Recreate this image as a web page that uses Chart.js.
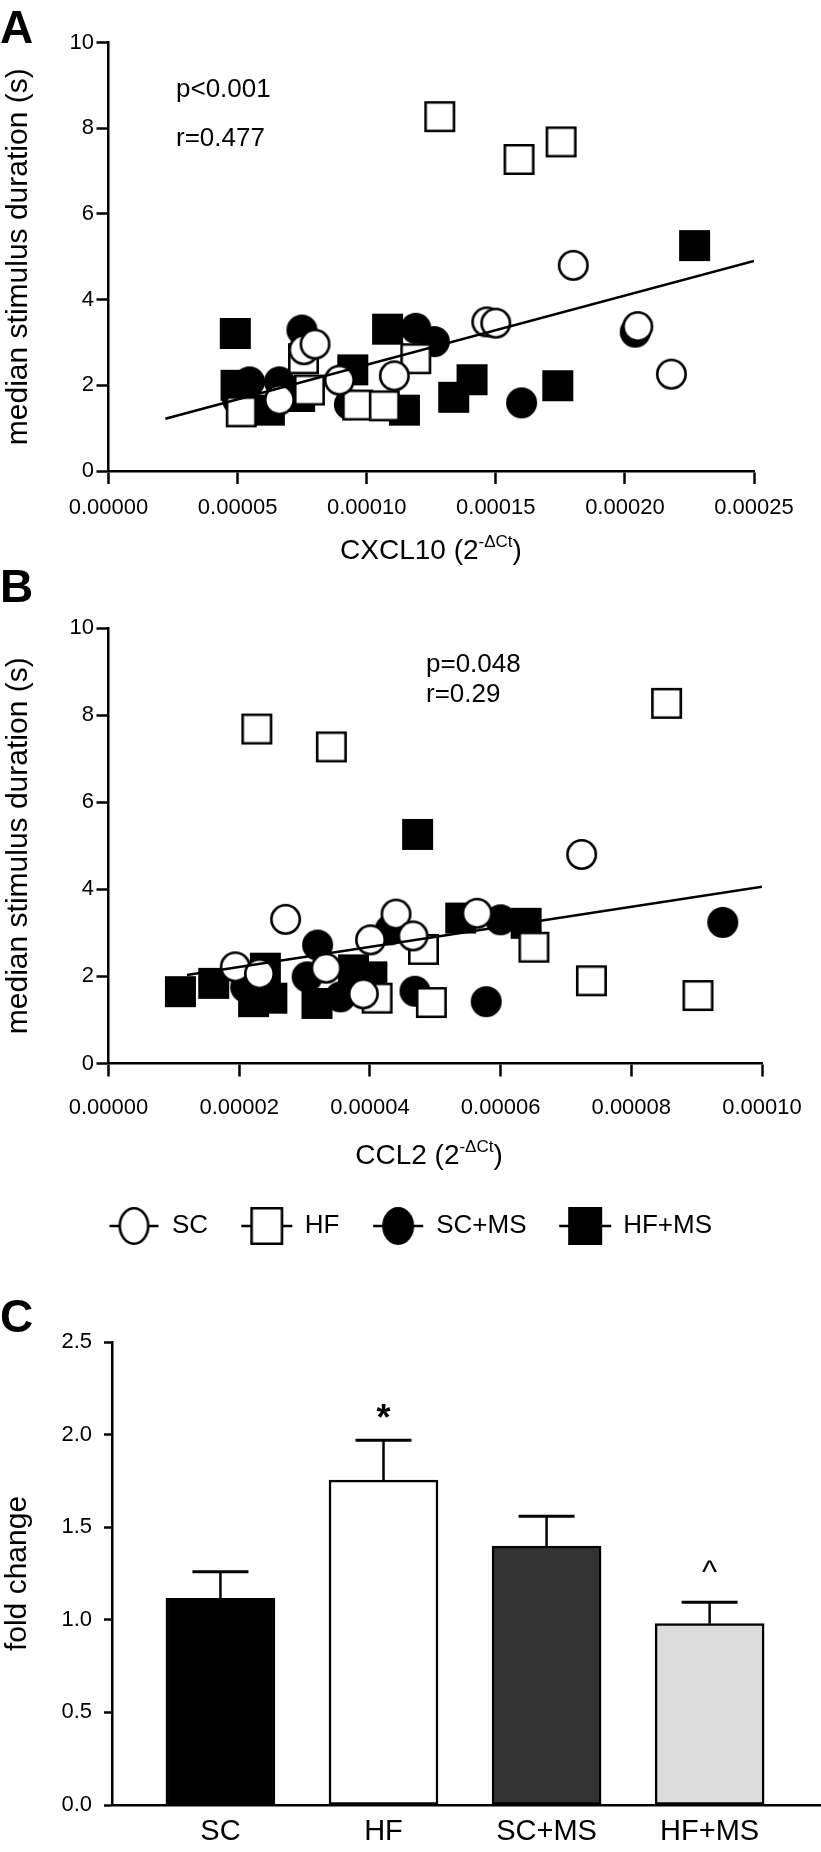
<!DOCTYPE html>
<html><head><meta charset="utf-8">
<script src="https://cdn.jsdelivr.net/npm/chart.js@4"></script>
<style>
html,body{margin:0;padding:0;background:#fff;}
body{width:821px;height:1852px;position:relative;overflow:hidden;font-family:'Liberation Sans',Arial,sans-serif;color:#000;}
canvas{position:absolute;left:0;}
.t{position:absolute;white-space:nowrap;line-height:1;}
.lbl{font-weight:bold;font-size:46px;}
.stat{font-size:26px;}
.xt{font-size:28px;transform:translateX(-50%);}
.sup{font-size:17px;position:relative;top:-12px;}
</style></head><body>
<canvas id="cA" width="821" height="580" style="top:0"></canvas>
<canvas id="cB" width="821" height="689" style="top:560px"></canvas>
<canvas id="cC" width="821" height="572" style="top:1280px"></canvas>
<div class="t lbl" style="left:0;top:4px">A</div>
<div class="t lbl" style="left:0;top:563px">B</div>
<div class="t lbl" style="left:0;top:1293px">C</div>
<div class="t stat" style="left:176px;top:75px">p&lt;0.001</div>
<div class="t stat" style="left:176px;top:124px">r=0.477</div>
<div class="t stat" style="left:426px;top:650px">p=0.048</div>
<div class="t stat" style="left:426px;top:680px">r=0.29</div>
<div class="t xt" style="left:431px;top:536px">CXCL10 (2<span class="sup">-ΔCt</span>)</div>
<div class="t xt" style="left:429px;top:1141px">CCL2 (2<span class="sup">-ΔCt</span>)</div>
<script>
// ---------- DATA ----------
const seriesNames = ['SC', 'HF', 'SC+MS', 'HF+MS'];

// Panel A: CXCL10 (2^-dCt) vs median stimulus duration (s)
const cxclSC = [
  {x:0.0001465,y:3.48},{x:0.00015,y:3.45},{x:0.00018,y:4.80},{x:0.000205,y:3.37},{x:0.000218,y:2.26},
  {x:0.0000757,y:2.83},{x:0.00008,y:2.96},{x:0.0001107,y:2.22},{x:0.0000894,y:2.12},{x:0.0000662,y:1.66}];
const cxclHF = [
  {x:0.0001283,y:8.27},{x:0.000159,y:7.27},{x:0.0001753,y:7.68},{x:0.0000755,y:2.62},{x:0.000119,y:2.62},
  {x:0.0000965,y:1.54},{x:0.0001068,y:1.52},{x:0.0000778,y:1.89},{x:0.0000514,y:1.38}];
const cxclSCMS = [
  {x:0.000204,y:3.24},{x:0.00016,y:1.59},{x:0.0000749,y:3.29},{x:0.000119,y:3.33},{x:0.0001262,y:3.02},
  {x:0.0000933,y:1.55},{x:0.0000662,y:2.08},{x:0.0000546,y:2.08},{x:0.00005,y:1.66}];
const cxclHFMS = [
  {x:0.000227,y:5.26},{x:0.000174,y:1.99},{x:0.0001408,y:2.13},{x:0.0001337,y:1.72},{x:0.0000491,y:3.21},
  {x:0.0001081,y:3.31},{x:0.0000946,y:2.36},{x:0.0001146,y:1.42},{x:0.000074,y:1.74},{x:0.0000623,y:1.42},{x:0.0000494,y:2.0}];
const cxclFit = [{x:0.000022,y:1.22},{x:0.00025,y:4.90}];
const xTicksA = [0, 0.00005, 0.0001, 0.00015, 0.0002, 0.00025];
const xTickLabelsA = ['0.00000','0.00005','0.00010','0.00015','0.00020','0.00025'];

// Panel B: CCL2 (2^-dCt) vs median stimulus duration (s)
const cclSC = [
  {x:0.0000724,y:4.80},{x:0.0000271,y:3.31},{x:0.000044,y:3.43},{x:0.0000401,y:2.84},{x:0.0000466,y:2.93},
  {x:0.0000564,y:3.45},{x:0.0000333,y:2.19},{x:0.000039,y:1.60},{x:0.0000194,y:2.22},{x:0.0000231,y:2.06}];
const cclHF = [
  {x:0.0000227,y:7.68},{x:0.0000341,y:7.27},{x:0.0000854,y:8.27},{x:0.0000739,y:1.90},{x:0.0000902,y:1.56},
  {x:0.0000651,y:2.67},{x:0.0000494,y:1.40},{x:0.0000482,y:2.62},{x:0.0000411,y:1.50}];
const cclSCMS = [
  {x:0.000094,y:3.24},{x:0.0000578,y:1.42},{x:0.0000469,y:1.66},{x:0.00006,y:3.30},{x:0.0000431,y:3.07},
  {x:0.000032,y:2.72},{x:0.0000304,y:1.99},{x:0.0000355,y:1.53},{x:0.000021,y:1.75}];
const cclHFMS = [
  {x:0.0000473,y:5.26},{x:0.0000639,y:3.22},{x:0.0000539,y:3.34},{x:0.0000319,y:1.38},{x:0.0000375,y:2.15},
  {x:0.0000403,y:1.99},{x:0.000011,y:1.65},{x:0.0000161,y:1.84},{x:0.000024,y:2.19},{x:0.0000222,y:1.42},{x:0.000025,y:1.50}];
const cclFit = [{x:0.000012,y:2.03},{x:0.0001,y:4.06}];
const xTicksB = [0, 0.00002, 0.00004, 0.00006, 0.00008, 0.0001];
const xTickLabelsB = ['0.00000','0.00002','0.00004','0.00006','0.00008','0.00010'];

// Panel C: fold change
const foldCategories = ['SC', 'HF', 'SC+MS', 'HF+MS'];
const foldMean = [1.116, 1.754, 1.398, 0.979];
const foldSem = [0.144, 0.215, 0.161, 0.116];
const sigMarks = ['', '*', '', '^'];

// ---------- STYLE ----------
Chart.defaults.font.family = "'Liberation Sans', Arial, sans-serif";
Chart.defaults.color = '#000';
const FONT = "'Liberation Sans', Arial, sans-serif";

function marker(shape, filled, w, h, lw, stub) {
  stub = stub || 0;
  const c = document.createElement('canvas');
  c.width = Math.ceil(w + 2 * stub + 2);
  c.height = Math.ceil(h + 2);
  const ctx = c.getContext('2d');
  const cx = c.width / 2, cy = c.height / 2;
  ctx.lineWidth = lw; ctx.strokeStyle = '#000'; ctx.fillStyle = filled ? '#000' : '#fff';
  if (stub) { ctx.beginPath(); ctx.moveTo(cx - w / 2 - stub, cy); ctx.lineTo(cx + w / 2 + stub, cy); ctx.stroke(); }
  ctx.beginPath();
  if (shape === 'circle') ctx.ellipse(cx, cy, (w - lw) / 2, (h - lw) / 2, 0, 0, Math.PI * 2);
  else ctx.rect(cx - (w - lw) / 2, cy - (h - lw) / 2, w - lw, h - lw);
  ctx.fill(); ctx.stroke();
  return c;
}
const mk = [marker('circle', false, 31, 31, 2.6), marker('rect', false, 31, 31, 2.6),
            marker('circle', true, 31, 31, 2.6), marker('rect', true, 31, 31, 2.6)];
const legMk = [marker('circle', false, 31, 38, 2.6, 9), marker('rect', false, 33, 38, 2.6, 9),
               marker('circle', true, 32, 38, 2.6, 9), marker('rect', true, 34, 38, 2.6, 9)];

function scatterDatasets(fit, groups) {
  const ds = [{ type: 'line', data: fit, borderColor: '#000', borderWidth: 2.5, pointRadius: 0, fill: false }];
  groups.forEach((g, i) => ds.push({ label: seriesNames[i], data: g, pointStyle: mk[i], pointRadius: 15 }));
  return ds;
}

function scatterOptions(xTicks, xLabels, xMax, rightW, axisH, tickPad, showLegend) {
  return {
    responsive: false, animation: false, events: [],
    layout: { padding: { top: 68, right: 0, left: 0, bottom: 0 } },
    plugins: {
      tooltip: { enabled: false },
      legend: showLegend ? {
        display: true, position: 'bottom',
        labels: {
          usePointStyle: true, pointStyleWidth: 50, padding: 33.7, color: '#000',
          font: { size: 26, family: FONT },
          generateLabels(chart) {
            const items = Chart.defaults.plugins.legend.labels.generateLabels(chart);
            return items.filter(it => it.datasetIndex > 0).map(it => { it.pointStyle = legMk[it.datasetIndex - 1]; return it; });
          }
        }
      } : { display: false }
    },
    scales: {
      x: {
        type: 'linear', min: 0, max: xMax,
        afterBuildTicks: (s) => { s.ticks = xTicks.map(v => ({ value: v })); },
        ticks: { callback: (v, i) => xLabels[i], font: { size: 22 }, color: '#000', padding: tickPad, maxRotation: 0, autoSkip: false },
        grid: { drawOnChartArea: false, drawTicks: true, tickLength: 13, tickColor: '#000', tickWidth: 2.5 },
        border: { color: '#000', width: 2.5 },
        afterFit: (s) => { s.height = axisH; }
      },
      y: {
        min: 0, max: 10,
        ticks: { stepSize: 2, font: { size: 22 }, color: '#000', padding: 2.5 },
        grid: { drawOnChartArea: false, drawTicks: true, tickLength: 12, tickColor: '#000', tickWidth: 2.5 },
        border: { color: '#000', width: 2.5 },
        title: { display: true, text: 'median stimulus duration (s)', font: { size: 30 }, color: '#000', padding: { top: 1, bottom: 0 } },
        afterFit: (s) => { s.width = 108.5; }
      },
      // empty spacer on the right, keeps the plot frame in place while the legend stays centred on the page
      yRight: {
        position: 'right', display: true,
        ticks: { display: false }, grid: { display: false }, border: { display: false },
        afterFit: (s) => { s.width = rightW; }
      }
    }
  };
}

// Panel A
const optA = scatterOptions(xTicksA, xTickLabelsA, 0.00025, 67, 109, 11, false);
optA.layout.padding.top = 42.5;
new Chart(document.getElementById('cA'), {
  type: 'scatter',
  data: { datasets: scatterDatasets(cxclFit, [cxclSC, cxclHF, cxclSCMS, cxclHFMS]) },
  options: optA
});

// Panel B (legend at bottom)
const optB = scatterOptions(xTicksB, xTickLabelsB, 0.0001, 59, 115.8, 18, true);
optB.layout.padding.top = 68;
new Chart(document.getElementById('cB'), {
  type: 'scatter',
  data: { datasets: scatterDatasets(cclFit, [cclSC, cclHF, cclSCMS, cclHFMS]) },
  options: optB
});

// Panel C
const errPlugin = {
  id: 'errbars',
  afterDatasetsDraw(chart) {
    const ctx = chart.ctx, ys = chart.scales.y;
    const meta = chart.getDatasetMeta(0);
    const lift = { '*': 10, '^': 20 };
    meta.data.forEach((bar, i) => {
      const top = ys.getPixelForValue(foldMean[i] + foldSem[i]);
      ctx.save();
      ctx.strokeStyle = '#000';
      ctx.lineWidth = 2.5;
      ctx.beginPath(); ctx.moveTo(bar.x, bar.y); ctx.lineTo(bar.x, top); ctx.stroke();
      ctx.lineWidth = 3;
      ctx.beginPath(); ctx.moveTo(bar.x - 28, top); ctx.lineTo(bar.x + 28, top); ctx.stroke();
      if (sigMarks[i]) {
        ctx.fillStyle = '#000';
        ctx.font = (sigMarks[i] === '*' ? 'bold 36px ' : '32px ') + FONT;
        ctx.textAlign = 'center'; ctx.textBaseline = 'alphabetic';
        ctx.fillText(sigMarks[i], bar.x, top - lift[sigMarks[i]]);
      }
      ctx.restore();
    });
  }
};
new Chart(document.getElementById('cC'), {
  type: 'bar',
  data: { datasets: [{
    data: foldMean.map((v, i) => ({ x: i, y: v })),
    backgroundColor: ['#000000', '#ffffff', '#333333', '#dcdcdc'],
    borderColor: '#000', borderWidth: 2.5, borderSkipped: false, barThickness: 109
  }] },
  options: {
    responsive: false, animation: false, events: [],
    layout: { padding: { top: 62, right: 0, left: 0, bottom: 0 } },
    plugins: { legend: { display: false }, tooltip: { enabled: false } },
    scales: {
      x: {
        type: 'linear', min: -0.665, max: 3.683, offset: false,
        afterBuildTicks: (s) => { s.ticks = foldCategories.map((c, i) => ({ value: i })); },
        ticks: { callback: (v, i) => foldCategories[i], font: { size: 29 }, color: '#000', padding: 9.6, maxRotation: 0, autoSkip: false },
        grid: { drawOnChartArea: false, drawTicks: false },
        border: { color: '#000', width: 2.5 },
        afterFit: (s) => { s.height = 47; }
      },
      y: {
        min: 0, max: 2.5,
        ticks: { stepSize: 0.5, callback: (v) => v.toFixed(1), font: { size: 22 }, color: '#000', padding: 12 },
        grid: { drawOnChartArea: false, drawTicks: true, tickLength: 8, tickColor: '#000', tickWidth: 2.5 },
        border: { color: '#000', width: 2.5 },
        title: { display: true, text: 'fold change', font: { size: 30 }, color: '#000', padding: { top: 0, bottom: 0 } },
        afterFit: (s) => { s.width = 112; }
      }
    }
  },
  plugins: [errPlugin]
});
</script>
</body></html>
